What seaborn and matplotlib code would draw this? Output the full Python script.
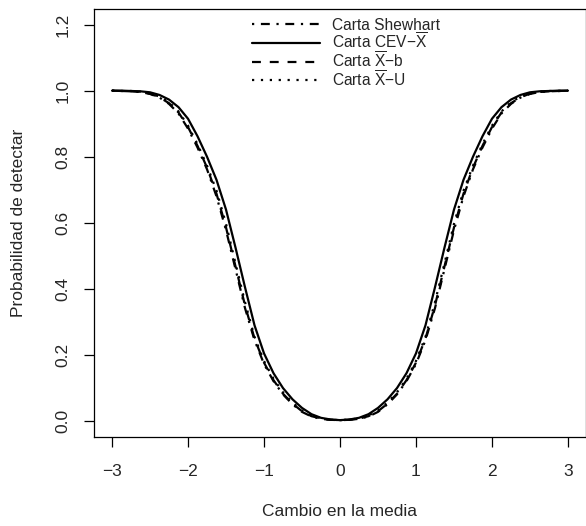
import numpy as np
import pandas as pd
import matplotlib
matplotlib.use("Agg")
import matplotlib.pyplot as plt
from matplotlib.lines import Line2D
import seaborn as sns

# ---- data ----
shift = [-3.0, -2.875, -2.75, -2.625, -2.5, -2.375, -2.25, -2.125, -2.0, -1.875, -1.75, -1.625,
         -1.5, -1.375, -1.25, -1.125, -1.0, -0.875, -0.75, -0.625, -0.5, -0.375, -0.25, -0.125,
         0.0, 0.125, 0.25, 0.375, 0.5, 0.625, 0.75, 0.875, 1.0, 1.125, 1.25, 1.375, 1.5, 1.625,
         1.75, 1.875, 2.0, 2.125, 2.25, 2.375, 2.5, 2.625, 2.75, 2.875, 3.0]

cev = [1.000, 1.000, 0.999, 0.998, 0.995, 0.987, 0.973, 0.950, 0.915, 0.862, 0.800, 0.730,
       0.640, 0.525, 0.405, 0.290, 0.205, 0.145, 0.100, 0.066, 0.040, 0.021, 0.010, 0.005,
       0.003, 0.005, 0.010, 0.021, 0.040, 0.066, 0.100, 0.145, 0.205, 0.290, 0.405, 0.525,
       0.640, 0.730, 0.800, 0.862, 0.915, 0.950, 0.973, 0.987, 0.995, 0.998, 0.999, 1.000, 1.000]

shewhart = [1.000, 0.999, 0.998, 0.996, 0.990, 0.979, 0.960, 0.931, 0.885, 0.828, 0.762, 0.680,
            0.578, 0.460, 0.342, 0.245, 0.173, 0.121, 0.081, 0.051, 0.028, 0.014, 0.007, 0.004,
            0.003, 0.004, 0.007, 0.014, 0.028, 0.051, 0.081, 0.121, 0.173, 0.245, 0.342, 0.460,
            0.578, 0.680, 0.762, 0.828, 0.885, 0.931, 0.960, 0.979, 0.990, 0.996, 0.998, 0.999, 1.000]

xbar_b = [1.000, 0.999, 0.998, 0.996, 0.991, 0.980, 0.962, 0.934, 0.890, 0.833, 0.767, 0.688,
          0.586, 0.468, 0.350, 0.250, 0.177, 0.124, 0.083, 0.053, 0.030, 0.015, 0.008, 0.004,
          0.003, 0.004, 0.008, 0.015, 0.030, 0.053, 0.083, 0.124, 0.177, 0.250, 0.350, 0.468,
          0.586, 0.688, 0.767, 0.833, 0.890, 0.934, 0.962, 0.980, 0.991, 0.996, 0.998, 0.999, 1.000]

xbar_u = [1.000, 0.999, 0.999, 0.997, 0.992, 0.982, 0.965, 0.937, 0.894, 0.838, 0.773, 0.697,
          0.597, 0.477, 0.360, 0.255, 0.182, 0.128, 0.087, 0.056, 0.032, 0.017, 0.0085, 0.0045,
          0.003, 0.0045, 0.0085, 0.017, 0.032, 0.056, 0.087, 0.128, 0.182, 0.255, 0.360, 0.477,
          0.597, 0.697, 0.773, 0.838, 0.894, 0.937, 0.965, 0.982, 0.992, 0.997, 0.999, 0.999, 1.000]

series_names = ["Shewhart", "CEV", "Xb", "XU"]
legend_labels = ["Carta Shewhart",
                 r"Carta CEV$-\overline{\mathrm{X}}$",
                 r"Carta $\overline{\mathrm{X}}$$-$b",
                 r"Carta $\overline{\mathrm{X}}$$-$U"]
x_ticks = [-3, -2, -1, 0, 1, 2, 3]
y_ticks = [0.0, 0.2, 0.4, 0.6, 0.8, 1.0, 1.2]

# ---- styling ----
sns.set_style("ticks")
plt.rcParams["font.family"] = ["Liberation Sans", "DejaVu Sans"]
plt.rcParams["mathtext.fontset"] = "custom"
plt.rcParams["mathtext.rm"] = "Liberation Sans"
plt.rcParams["mathtext.it"] = "Liberation Sans:italic"
plt.rcParams["mathtext.bf"] = "Liberation Sans:bold"
plt.rcParams["axes.unicode_minus"] = True

df = pd.concat([
    pd.DataFrame({"shift": shift, "prob": shewhart, "serie": "Shewhart"}),
    pd.DataFrame({"shift": shift, "prob": cev, "serie": "CEV"}),
    pd.DataFrame({"shift": shift, "prob": xbar_b, "serie": "Xb"}),
    pd.DataFrame({"shift": shift, "prob": xbar_u, "serie": "XU"}),
], ignore_index=True)

dash_map = {"Shewhart": (1, 3, 4, 3), "CEV": "", "Xb": (4, 4), "XU": (1, 3)}
LW = 1.6
FS = 12.5

W, H = 586, 526
fig = plt.figure(figsize=(W / 100, H / 100), dpi=100)
left, right, bottom, top = 93.8, 586.2, 437.0, 8.7
ax = fig.add_axes([left / W, 1 - bottom / H, (right - left) / W, (bottom - top) / H])

sns.lineplot(data=df, x="shift", y="prob", style="serie", style_order=series_names,
             dashes=dash_map, color="black", linewidth=LW, estimator=None,
             sort=False, legend=False, ax=ax)

ax.set_xlim(-3.24, 3.24)
ax.set_ylim(-0.048, 1.248)
ax.set_xticks(x_ticks)
ax.set_xticklabels([f"{t}".replace("-", "\u2212") for t in x_ticks], fontsize=FS)
ax.set_yticks(y_ticks)
ax.set_yticklabels([f"{t:.1f}" for t in y_ticks], fontsize=FS, rotation=90, va="center")
ax.tick_params(axis="both", direction="out", length=7.5, width=0.9, color="black")
ax.tick_params(axis="x", pad=12)
ax.tick_params(axis="y", pad=9.5)
for s in ax.spines.values():
    s.set_color("black")
    s.set_linewidth(0.9)

ax.set_xlabel("Cambio en la media", fontsize=FS, va="center")
ax.set_ylabel("Probabilidad de detectar", fontsize=FS, va="center")
ax.xaxis.set_label_coords(0.5, (bottom - 512.0) / (bottom - top))
ax.yaxis.set_label_coords((18.5 - left) / (right - left), 0.5)
ax.grid(False)

# ---- legend (R-style, no frame), placed row by row ----
leg_x0, leg_x1, leg_tx = 252, 320, 332
leg_line_y = [24.0, 42.8, 61.6, 80.4]
leg_base_y = [30.3, 49.1, 67.9, 86.7]
for name, lab, ly, by in zip(series_names, legend_labels, leg_line_y, leg_base_y):
    ls = (0, dash_map[name]) if dash_map[name] else "-"
    fig.add_artist(Line2D([leg_x0 / W, leg_x1 / W], [1 - ly / H, 1 - ly / H],
                          transform=fig.transFigure, color="black",
                          linewidth=LW, linestyle=ls))
    fig.text(leg_tx / W, 1 - by / H, lab, fontsize=11.2, ha="left", va="baseline")

fig.savefig("out.png", dpi=100)
